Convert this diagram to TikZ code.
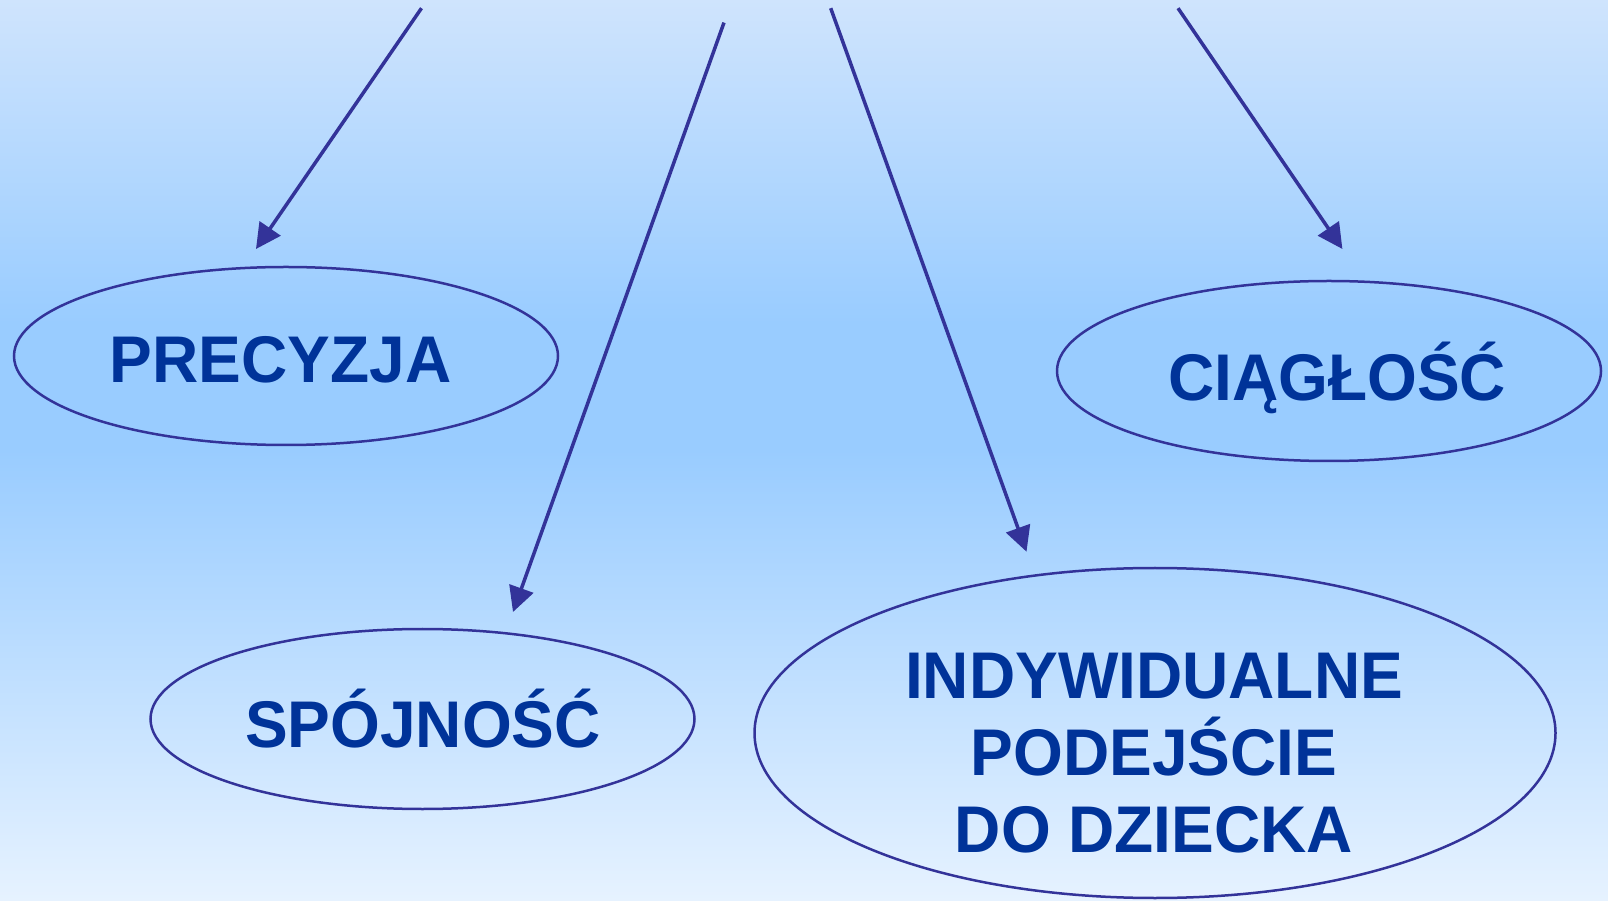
\documentclass[tikz,border=0pt]{standalone}
\usepackage{fontspec}
\setmainfont{Liberation Sans}
\newfontfamily\condfont[FakeStretch=0.97]{Liberation Sans}
\usetikzlibrary{shapes.geometric,arrows.meta}
\definecolor{lineblue}{HTML}{333399}
\definecolor{textblue}{HTML}{003399}
\definecolor{bgtop}{HTML}{CFE4FD}
\definecolor{bgmid}{HTML}{99CCFF}
\definecolor{bgbot}{HTML}{E6F2FF}
\pgfdeclareverticalshading{bgshade}{100bp}{color(0bp)=(bgbot); color(25bp)=(bgbot); color(50bp)=(bgmid); color(57bp)=(bgmid); color(75bp)=(bgtop); color(100bp)=(bgtop)}
\tikzset{
  oval/.style={ellipse, draw=lineblue, line width=2.5pt, inner sep=0pt},
  lbl/.style={font=\condfont\fontsize{66}{77}\selectfont\bfseries, text=textblue, inner sep=0pt, text height=47.3pt, text depth=0pt},
  biglbl/.style={font=\condfont\fontsize{66}{77}\selectfont\bfseries, text=textblue, inner sep=0pt, align=center},
  arr/.style={draw=lineblue, line width=3.5pt, -{Triangle[length=25pt,width=25pt]}},
}
\begin{document}
\begin{tikzpicture}[x=1pt,y=1pt]
\useasboundingbox (0,0) rectangle (1608,900);
\shade[shading=bgshade] (0,0) rectangle (1608,900);
% ellipses
\node[oval, minimum width=544pt, minimum height=178pt] (eprec) at (286,544) {};
\node[oval, minimum width=544pt, minimum height=180pt] (eciag) at (1329,529) {};
\node[oval, minimum width=544pt, minimum height=180pt] (espoj) at (422.5,181) {};
\node[oval, minimum width=801pt, minimum height=330pt] (eindy) at (1155,167) {};
% texts
\node[lbl] (tprec) at (280.5,541) {PRECYZJA};
\node[lbl] (tciag) at (1337,523) {CIĄGŁOŚĆ};
\node[lbl] (tspoj) at (423,176) {SPÓJNOŚĆ};
\node[biglbl] (tindy) at (1154,147) {INDYWIDUALNE\\PODEJŚCIE\\DO DZIECKA};
% arrow ends
\coordinate (s1) at (421.5,891.8);
\coordinate (e1) at (256,651);
\coordinate (s2) at (724,877.4);
\coordinate (e2) at (513,288);
\coordinate (s3) at (830.7,891.8);
\coordinate (e3) at (1026.5,348.3);
\coordinate (s4) at (1178,891.8);
\coordinate (e4) at (1342.4,651);
\draw[arr] (s1) -- (e1);
\draw[arr] (s2) -- (e2);
\draw[arr] (s3) -- (e3);
\draw[arr] (s4) -- (e4);
\end{tikzpicture}
\end{document}
